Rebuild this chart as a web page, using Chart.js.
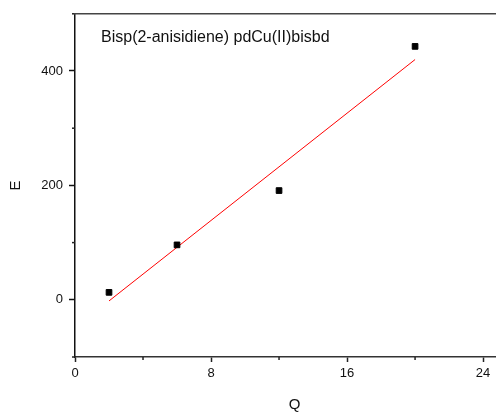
<!DOCTYPE html>
<html>
<head>
<meta charset="utf-8">
<script src="https://cdn.jsdelivr.net/npm/chart.js@4/dist/chart.umd.min.js"></script>
<style>
  html, body { margin: 0; padding: 0; background: #fff; }
  #wrap { width: 496px; height: 417px; }
</style>
</head>
<body>
<div id="wrap"><canvas id="chart"></canvas></div>
<script>
// --- Data ---
const qValues = [2, 6, 12, 20];
const eValues = [13, 96, 191, 443];

// linear fit, drawn between its two end points
const fitQ = [2, 20];
const fitE = [-2, 420];

const xMajorTicks = [0, 8, 16, 24];
const yMajorTicks = [0, 200, 400];

const sampleName = 'Bisp(2-anisidiene) pdCu(II)bisbd';
const xTitle = 'Q';

const FONT = '"Liberation Sans", Arial, sans-serif';

const isMajorX = (v) => xMajorTicks.includes(v);
const isMajorY = (v) => yMajorTicks.includes(v);

// short minor ticks, top frame line, x title and the sample label
const framePlugin = {
    id: 'frame',
    afterDraw(chart) {
        const { ctx, chartArea, scales } = chart;
        ctx.save();
        ctx.strokeStyle = '#222';
        ctx.lineWidth = 1.5;

        // minor ticks on x
        scales.x.ticks.forEach(t => {
            if (isMajorX(t.value)) return;
            const px = scales.x.getPixelForValue(t.value);
            ctx.beginPath();
            ctx.moveTo(px, chartArea.bottom);
            ctx.lineTo(px, chartArea.bottom + 3);
            ctx.stroke();
        });

        // minor ticks on y
        scales.y.ticks.forEach(t => {
            if (isMajorY(t.value)) return;
            const py = scales.y.getPixelForValue(t.value);
            ctx.beginPath();
            ctx.moveTo(chartArea.left, py);
            ctx.lineTo(chartArea.left - 3, py);
            ctx.stroke();
        });

        // top frame
        ctx.strokeStyle = '#444';
        ctx.beginPath();
        ctx.moveTo(chartArea.left - 1, chartArea.top);
        ctx.lineTo(chartArea.right, chartArea.top);
        ctx.stroke();

        ctx.fillStyle = '#111';
        ctx.textBaseline = 'middle';

        // x axis title, a little right of centre
        ctx.font = '15px ' + FONT;
        ctx.textAlign = 'center';
        ctx.fillText(xTitle, (chartArea.left + chartArea.right) / 2 + 9, chartArea.bottom + 48);

        // sample label
        ctx.font = '16px ' + FONT;
        ctx.textAlign = 'left';
        ctx.fillText(sampleName, chartArea.left + 26, chartArea.top + 24);
        ctx.restore();
    }
};

const ctx = document.getElementById('chart');

new Chart(ctx, {
    type: 'scatter',
    data: {
        datasets: [
            {
                label: 'E',
                data: qValues.map((q, i) => ({ x: q, y: eValues[i] })),
                pointStyle: 'rect',
                pointRadius: 4,
                backgroundColor: '#000',
                borderColor: '#000',
                borderWidth: 1,
                showLine: false
            },
            {
                label: 'fit',
                data: fitQ.map((q, i) => ({ x: q, y: fitE[i] })),
                showLine: true,
                borderColor: '#ff0000',
                borderWidth: 1,
                pointRadius: 0
            }
        ]
    },
    options: {
        responsive: true,
        maintainAspectRatio: false,
        animation: false,
        layout: {
            autoPadding: false,
            padding: { top: 11, right: 0, left: 0, bottom: 0 }
        },
        plugins: {
            legend: { display: false },
            tooltip: { enabled: false }
        },
        scales: {
            x: {
                type: 'linear',
                min: 0,
                max: 24.76,
                afterFit: (scale) => {
                    scale.height = 60;
                    scale.paddingRight = 0;
                },
                ticks: {
                    stepSize: 4,
                    includeBounds: false,
                    autoSkip: false,
                    maxRotation: 0,
                    padding: 4,
                    color: '#111',
                    font: { family: FONT, size: 13 },
                    callback: (v) => isMajorX(v) ? String(v) : ''
                },
                grid: {
                    drawOnChartArea: false,
                    tickLength: 5,
                    tickWidth: 1.5,
                    tickColor: (c) => isMajorX(c.tick.value) ? '#222' : 'rgba(0,0,0,0)'
                },
                border: { display: true, color: '#333', width: 1.5 }
            },
            y: {
                type: 'linear',
                min: -100,
                max: 500,
                afterFit: (scale) => { scale.width = 75; },
                ticks: {
                    stepSize: 100,
                    autoSkip: false,
                    padding: 6,
                    color: '#111',
                    font: { family: FONT, size: 13 },
                    callback: (v) => isMajorY(v) ? String(v) : ''
                },
                grid: {
                    drawOnChartArea: false,
                    tickLength: 6,
                    tickWidth: 1.5,
                    tickColor: (c) => isMajorY(c.tick.value) ? '#111' : 'rgba(0,0,0,0)'
                },
                border: { display: true, color: '#111', width: 1.5 },
                title: {
                    display: true,
                    text: 'E',
                    color: '#111',
                    font: { family: FONT, size: 15 },
                    padding: { top: 7, bottom: 0 }
                }
            }
        }
    },
    plugins: [framePlugin]
});
</script>
</body>
</html>
